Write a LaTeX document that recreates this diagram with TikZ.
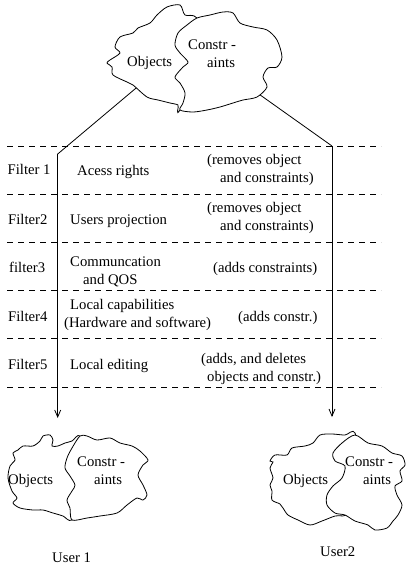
\documentclass[tikz,border=0pt]{standalone}
\usepackage{fontspec}
\setmainfont{Liberation Serif}
\usetikzlibrary{arrows.meta}
\tikzset{
  cloudline/.style={line width=0.8pt, fill=white},
  flow/.style={line width=0.8pt, -{Straight Barb[length=7pt,width=6pt]}},
  feed/.style={line width=0.8pt},
  sep/.style={line width=0.7pt, dash pattern=on 6pt off 5pt},
  lbl/.style={anchor=base west, inner sep=0pt, font=\fontsize{14.7}{18}\selectfont, align=left},
}
\begin{document}
\begin{tikzpicture}[x=1pt,y=-1pt]
\useasboundingbox (0,0) rectangle (409,571);

% separators
\foreach \yy in {146,194,242,290,338,387}
  \draw[sep] (7,\yy) -- (381,\yy);

% connectors
\coordinate (topL) at (138.5,86);
\coordinate (jL) at (57.7,154);
\coordinate (endL) at (57.7,418);
\coordinate (topR) at (252.6,89.6);
\coordinate (jR) at (332,146);
\coordinate (endR) at (332,417);
\draw[feed] (topL) -- (jL);
\draw[flow] (jL) -- (endL);
\draw[feed] (topR) -- (jR);
\draw[flow] (jR) -- (endR);

% top clouds
\draw[cloudline] plot[smooth cycle] coordinates {
 (150,23) (157,15) (167,7) (180,5) (185,15) (197,18) (215,50) (180,110)
 (178,105) (170,103) (158,100) (147,97) (133,85) (127,82) (113,75) (112,67)
 (107,63) (110,60) (120,53) (115,47) (120,37) (133,33) (138,28)};
\draw[cloudline] plot[smooth cycle] coordinates {
 (197,18) (210,15) (223,12) (233,13) (240,23) (253,27) (267,30) (277,40)
 (282,57) (277,67) (268,68) (263,77) (267,87) (257,97) (243,100) (233,103)
 (220,107) (207,110) (193,112) (180,110) (183,103) (185,93) (180,83) (175,77)
 (183,67) (188,62) (180,53) (175,45) (178,33) (187,25)};

% user 1 clouds
\draw[cloudline] plot[smooth cycle] coordinates {
 (33,446) (40,441) (43,436) (50,435) (53,440) (52,446) (58,446) (65,443)
 (72,441) (80,436) (90,460) (90,500) (72,520) (63,516) (53,513) (43,510)
 (33,510) (20,508) (13,503) (17,498) (12,491) (8,478) (10,466) (15,460)
 (13,453) (18,450) (23,446)};
\draw[cloudline] plot[smooth cycle] coordinates {
 (80,436) (87,436) (97,440) (110,438) (120,443) (132,446) (140,451) (148,460)
 (143,465) (138,475) (143,485) (147,495) (143,500) (137,498) (127,505) (117,513)
 (100,516) (87,518) (72,520) (70,508) (67,500) (72,491) (75,485) (70,476)
 (65,468) (67,458) (72,448)};

% user 2 clouds
\draw[cloudline] plot[smooth cycle] coordinates {
 (313,443) (320,435) (332,434) (345,435) (355,433) (360,470) (350,512) (335,516)
 (322,521) (310,525) (298,520) (288,515) (283,508) (280,504) (272,500) (272,491)
 (270,485) (273,478) (270,468) (273,462) (270,461) (275,455) (287,455) (292,448)
 (305,446)};
\draw[cloudline] plot[smooth cycle] coordinates {
 (355,435) (368,443) (382,446) (392,453) (402,456) (405,465) (400,471) (402,481)
 (395,486) (397,495) (402,505) (398,515) (393,521) (387,528) (375,530) (368,525)
 (355,521) (345,515) (335,513) (327,505) (327,495) (333,486) (342,478) (345,466)
 (335,461) (333,453) (342,443)};

% cloud texts
\node[lbl] (tobj) at (127,66.5) {Objects};
\node[lbl] (tcon) at (188,67.5) {Constr -\\\hspace*{19pt}aints};
\node[lbl] (aobj) at (8,484.5) {Objects};
\node[lbl] (acon) at (77,484.5) {Constr -\\\hspace*{17pt}aints};
\node[lbl] (bobj) at (283,484.5) {Objects};
\node[lbl] (bcon) at (345,484.5) {Constr -\\\hspace*{18pt}aints};
\node[lbl] (u1) at (52,562.5) {User 1};
\node[lbl] (u2) at (320,556.5) {User2};

% filter rows
\node[lbl] (f1) at (7.5,174.5) {Filter 1};
\node[lbl] (f1a) at (77,175.5) {Acess rights};
\node[lbl] (f1b) at (207,182.5) {(removes object\\\hspace*{13pt}and constraints)};

\node[lbl] (f2) at (8,224.5) {Filter2};
\node[lbl] (f2a) at (70,224.5) {Users projection};
\node[lbl] (f2b) at (207,230.5) {(removes object\\\hspace*{13pt}and constraints)};

\node[lbl] (f3) at (9,272.5) {filter3};
\node[lbl] (f3a) at (70,284.5) {Communcation\\\hspace*{13pt}and QOS};
\node[lbl] (f3b) at (213,272.5) {(adds constraints)};

\node[lbl] (f4) at (8,321.5) {Filter4};
\node[lbl] (f4a) at (64,327.5) {\hspace*{6pt}Local capabilities\\(Hardware and software)};
\node[lbl] (f4b) at (238,321.5) {(adds constr.)};

\node[lbl] (f5) at (8,369.5) {Filter5};
\node[lbl] (f5a) at (70,369.5) {Local editing};
\node[lbl] (f5b) at (201,381.5) {(adds, and deletes\\\hspace*{6pt}objects and constr.)};
\end{tikzpicture}
\end{document}
